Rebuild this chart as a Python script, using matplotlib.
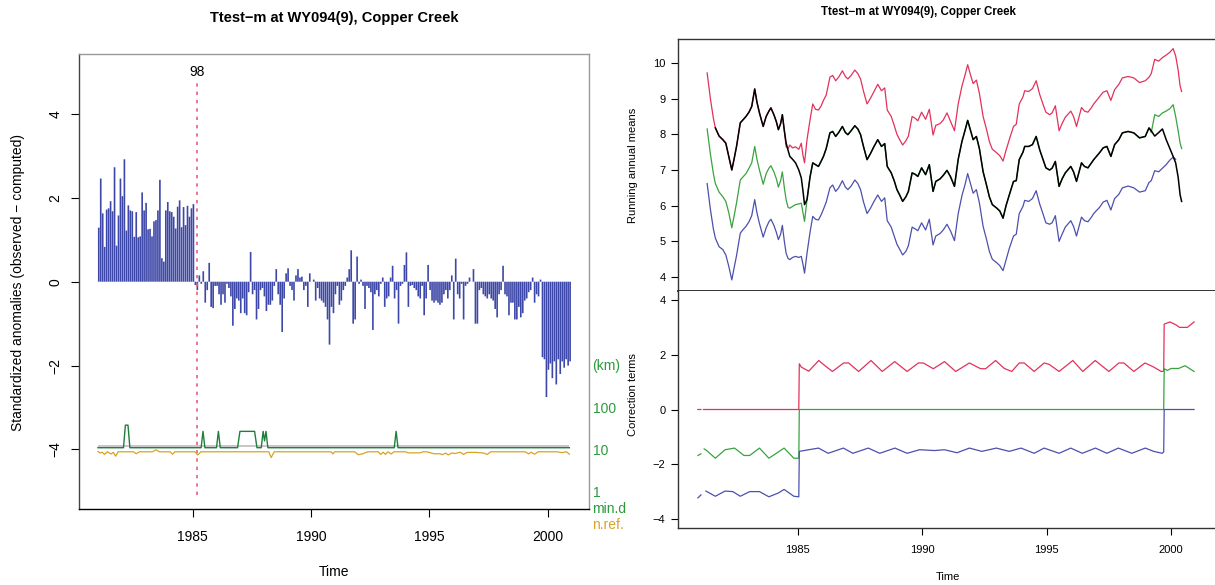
import numpy as np
import matplotlib
matplotlib.use('agg')
from matplotlib import pyplot as plt
from matplotlib.ticker import NullLocator

plt.rcParams['font.family'] = ['Liberation Sans', 'DejaVu Sans']

# ---- data ----
TITLE = 'Ttest\u2212m at WY094(9), Copper Creek'
START_YEAR = 1981.0
BREAK_YEAR = 1985.17
BREAK_LABEL = '98'

# monthly standardized anomalies, Jan 1981 .. Dec 2000
anomalies = [
    1.29, 2.46, 1.63, 0.83, 1.72, 1.75, 1.92, 1.68, 2.73, 0.86,
    1.58, 2.46, 2.04, 2.92, 1.22, 1.82, 1.70, 1.68, 1.07, 1.66,
    1.06, 1.08, 2.13, 1.70, 1.88, 1.25, 1.26, 1.08, 1.44, 1.47,
    1.70, 2.43, 0.56, 0.48, 1.70, 1.90, 1.68, 1.66, 1.55, 1.27,
    1.79, 1.94, 1.30, 1.78, 1.35, 1.81, 1.55, 1.75, 1.85,
    # after the break
    -0.08, -0.20, 0.15, -0.05, 0.25, -0.50, -0.20, 0.45, -0.60, -0.63,
    -0.10, -0.10, -0.30, -0.55, -0.30, -0.50, -0.05, -0.15, -0.35, -1.05,
    -0.65, -0.40, -0.45, -0.75, -0.40, -0.75, -0.80, -0.25, 0.71, -0.30,
    -0.20, -0.90, -0.65, -0.20, -0.15, -0.35, -0.70, -0.55, -0.55, -0.45,
    -0.10, 0.30, -0.30, -0.55, -1.20, -0.40, 0.20, 0.32, -0.10, -0.20,
    -0.45, 0.15, 0.30, 0.10, 0.12, -0.20, -0.10, -0.60, 0.20, 0.00,
    0.05, -0.45, -0.15, -0.40, -0.45, -0.50, -0.60, -0.90, -1.50, -0.60,
    -0.75, -0.30, -0.10, -0.55, -0.45, -0.20, -0.10, 0.10, 0.30, 0.75,
    -1.00, -0.90, 0.60, -0.05, 0.05, -0.10,
    -0.65, -0.10, -0.15, -0.25, -1.15, -0.30, -0.20, -0.35, -0.05, 0.10,
    -0.60, -0.40, -0.35, 0.10, 0.38, -0.40, -0.20, -1.00, -0.10, -0.05,
    0.40, 0.70, -0.60, -0.10, -0.08, -0.15, -0.20, -0.35, -0.40, -0.10,
    -0.80, -0.40, 0.40, -0.20, -0.45, -0.50, -0.45, -0.50, -0.55, -0.50,
    -0.30, -0.20, -0.40, -0.20, 0.15, -0.90, 0.55, -0.30, -0.40, -0.05,
    -0.90, -0.10, -0.05, 0.10, 0.00, 0.30, -1.00, -1.00, -0.20, -0.15,
    -0.30, -0.35, -0.40, -0.30, -0.40, -0.45, -0.65, -0.85, -0.30, -0.20,
    0.38, -0.30, -0.35, -0.80, -0.50, -0.50, -0.90, -0.90, -0.60, -0.85,
    -0.75, -0.45, -0.40, -0.25, -0.20, 0.10, -0.50, -0.30, -0.35, 0.05,
    -1.80, -1.85, -2.75, -2.10, -1.95, -2.30, -1.90, -2.45, -1.85, -2.20,
    -1.90, -2.05, -1.85, -2.00, -1.90,
]

# distance to nearest reference (km) and number of references
mind_time = [1981.0, 1982.08, 1982.16, 1982.27, 1982.35, 1985.36, 1985.44, 1985.52,
             1986.01, 1986.09, 1986.17, 1986.9, 1987.0, 1987.62, 1987.72, 1987.9,
             1987.98, 1988.04, 1988.1, 1988.18, 1993.52, 1993.6, 1993.68, 2000.92]
mind_km = [11, 11, 38, 38, 11, 11, 27, 11, 11, 27, 11, 11, 27, 27, 11, 11,
           27, 16, 27, 11, 11, 27, 11, 11]
nref_time = [1981.0, 1981.1, 1981.18, 1981.28, 1981.4, 1981.55, 1981.65, 1981.75, 1981.85, 1982.5,
             1982.62, 1982.75, 1983.3, 1983.45, 1983.6, 1984.05, 1984.15, 1984.25, 1985.1, 1985.22,
             1985.35, 1988.22, 1988.32, 1988.45, 1990.85, 1990.93, 1991.0, 1991.85, 1992.0, 1992.2,
             1992.4, 1992.85, 1992.95, 1993.05, 1993.15, 1993.25, 1993.4, 1993.5, 1994.0, 1994.1,
             1994.6, 1994.75, 1994.9, 1995.2, 1995.45, 1995.55, 1995.7, 1995.8, 1995.95, 1996.1,
             1996.3, 1996.45, 1996.6, 1997.0, 1997.3, 1997.45, 1997.6, 1998.0, 1999.05, 1999.2,
             1999.3, 1999.45, 1999.6, 2000.4, 2000.6, 2000.8, 2000.92]
nref_n = [9, 8.2, 8.6, 7.6, 8.8, 7.8, 8.5, 6.9, 8.8, 8.8,
          7.9, 8.8, 8.8, 9.8, 8.8, 8.8, 7.7, 8.8, 8.8, 7.4,
          8.8, 8.8, 6.4, 8.8, 8.8, 7.8, 8.8, 8.8, 7.5, 7.9,
          8.8, 8.8, 7.6, 8.6, 7.6, 8.8, 7.8, 8.8, 8.8, 8.3,
          8.3, 8.8, 8.8, 7.9, 7.9, 7.5, 8.2, 7.4, 8.2, 8.0,
          8.6, 7.6, 8.5, 8.5, 8.2, 7.6, 8.8, 8.8, 8.8, 7.8,
          8.6, 7.7, 8.8, 8.8, 8.4, 8.8, 7.7]
REF_KM = 11.8

nan = np.nan
# running annual means
rm_time = [1981.37, 1981.50, 1981.62, 1981.70, 1981.85, 1982.00, 1982.12, 1982.24, 1982.36, 1982.45,
           1982.55, 1982.70, 1982.80, 1982.93, 1983.05, 1983.16, 1983.28, 1983.37, 1983.47, 1983.62,
           1983.74, 1983.85, 1983.93, 1984.05, 1984.15, 1984.23, 1984.32, 1984.39, 1984.47, 1984.54,
           1984.62, 1984.69, 1984.80, 1984.92, 1985.05, 1985.15, 1985.22, 1985.28, 1985.38, 1985.50,
           1985.61, 1985.72, 1985.84, 1985.95, 1986.04, 1986.15, 1986.30, 1986.41, 1986.53, 1986.65,
           1986.80, 1986.92, 1987.02, 1987.15, 1987.30, 1987.42, 1987.53, 1987.65, 1987.79, 1987.92,
           1988.07, 1988.22, 1988.37, 1988.50, 1988.60, 1988.76, 1988.88, 1988.99, 1989.10, 1989.22,
           1989.35, 1989.45, 1989.60, 1989.72, 1989.83, 1989.98, 1990.14, 1990.29, 1990.44, 1990.55,
           1990.72, 1990.85, 1991.00, 1991.15, 1991.30, 1991.45, 1991.60, 1991.72, 1991.83, 1991.95,
           1992.05, 1992.18, 1992.30, 1992.45, 1992.60, 1992.70, 1992.82, 1993.00, 1993.12, 1993.25,
           1993.37, 1993.50, 1993.67, 1993.78, 1993.90, 1994.05, 1994.12, 1994.28, 1994.43, 1994.58,
           1994.72, 1994.85, 1994.97, 1995.12, 1995.22, 1995.35, 1995.50, 1995.62, 1995.75, 1995.97,
           1996.08, 1996.20, 1996.40, 1996.52, 1996.66, 1996.80, 1996.89, 1997.12, 1997.27, 1997.42,
           1997.58, 1997.73, 1997.90, 1998.04, 1998.27, 1998.50, 1998.73, 1998.96, 1999.11, 1999.20,
           1999.34, 1999.50, 1999.65, 1999.80, 1999.95, 2000.08, 2000.18, 2000.28, 2000.36, 2000.42]
rm_black = [nan, nan, nan, 8.18, 7.95, 7.85, 7.75, 7.38, 7.00, 7.30,
            7.66, 8.32, 8.40, 8.50, 8.62, 8.78, 9.27, 8.90, 8.60, 8.22,
            8.50, 8.65, 8.74, 8.55, 8.35, 8.13, 8.30, 8.55, 8.10, 7.76,
            7.55, 7.38, 7.30, 7.20, 7.00, 6.78, 6.40, 6.03, 6.17, 6.80,
            7.20, 7.15, 7.10, 7.25, 7.38, 7.60, 8.04, 8.08, 7.94, 8.05,
            8.22, 8.05, 7.99, 8.10, 8.24, 8.15, 7.99, 7.65, 7.29, 7.45,
            7.66, 7.85, 7.66, 7.74, 7.10, 6.92, 6.70, 6.45, 6.30, 6.12,
            6.25, 6.40, 6.92, 6.88, 6.82, 7.06, 6.87, 7.15, 6.40, 6.68,
            6.75, 6.85, 6.99, 6.80, 6.54, 7.30, 7.80, 8.10, 8.39, 8.10,
            7.85, 7.94, 7.60, 6.95, 6.54, 6.25, 6.03, 5.93, 5.85, 5.65,
            6.00, 6.30, 6.68, 6.70, 7.29, 7.50, 7.66, 7.66, 7.71, 7.94,
            7.57, 7.30, 7.06, 7.00, 7.05, 7.24, 6.54, 6.75, 6.92, 7.10,
            6.95, 6.68, 7.20, 7.10, 7.06, 7.20, 7.29, 7.48, 7.62, 7.66,
            7.38, 7.71, 7.85, 8.04, 8.08, 8.04, 7.90, 7.94, 8.18, 8.10,
            7.95, 8.05, 8.15, 7.85, 7.60, 7.38, 7.20, 6.80, 6.30, 6.12]
rm_red = [9.72, 9.00, 8.45, 8.18, 7.95, 7.85, 7.75, 7.38, 7.00, 7.30,
          7.66, 8.32, 8.40, 8.50, 8.62, 8.78, 9.27, 8.90, 8.60, 8.22,
          8.50, 8.65, 8.74, 8.55, 8.35, 8.13, 8.30, 8.55, 8.10, 7.66,
          7.60, 7.70, 7.62, 7.65, 7.58, 7.75, 7.40, 7.20, 7.85, 8.40,
          8.85, 8.70, 8.68, 8.80, 8.95, 9.10, 9.60, 9.65, 9.50, 9.60,
          9.78, 9.62, 9.55, 9.65, 9.80, 9.70, 9.55, 9.20, 8.85, 9.00,
          9.20, 9.40, 9.22, 9.30, 8.68, 8.50, 8.25, 8.00, 7.85, 7.70,
          7.82, 7.95, 8.50, 8.45, 8.38, 8.62, 8.42, 8.70, 7.98, 8.25,
          8.30, 8.40, 8.60, 8.35, 8.10, 8.85, 9.35, 9.65, 9.95, 9.65,
          9.42, 9.52, 9.15, 8.50, 8.10, 7.80, 7.58, 7.48, 7.40, 7.25,
          7.55, 7.85, 8.22, 8.28, 8.85, 9.05, 9.22, 9.20, 9.28, 9.50,
          9.12, 8.85, 8.62, 8.55, 8.60, 8.80, 8.10, 8.30, 8.48, 8.65,
          8.50, 8.22, 8.75, 8.65, 8.62, 8.75, 8.85, 9.05, 9.18, 9.22,
          8.95, 9.25, 9.40, 9.58, 9.62, 9.58, 9.45, 9.50, 9.60, 9.70,
          10.10, 10.05, 10.15, 10.22, 10.30, 10.40, 10.20, 9.80, 9.35, 9.20]
rm_green = [8.15, 7.45, 6.90, 6.62, 6.38, 6.25, 6.12, 5.80, 5.38, 5.70,
            6.08, 6.72, 6.80, 6.90, 7.05, 7.20, 7.66, 7.30, 7.00, 6.60,
            6.90, 7.05, 7.12, 6.95, 6.75, 6.52, 6.70, 6.95, 6.50, 6.17,
            5.95, 5.93, 5.98, 6.03, 6.05, 6.07, 5.80, 5.56, 6.17, 6.80,
            7.20, 7.15, 7.10, 7.25, 7.38, 7.60, 8.04, 8.08, 7.94, 8.05,
            8.22, 8.05, 7.99, 8.10, 8.24, 8.15, 7.99, 7.65, 7.29, 7.45,
            7.66, 7.85, 7.66, 7.74, 7.10, 6.92, 6.70, 6.45, 6.30, 6.12,
            6.25, 6.40, 6.92, 6.88, 6.82, 7.06, 6.87, 7.15, 6.40, 6.68,
            6.75, 6.85, 6.99, 6.80, 6.54, 7.30, 7.80, 8.10, 8.39, 8.10,
            7.85, 7.94, 7.60, 6.95, 6.54, 6.25, 6.03, 5.93, 5.85, 5.65,
            6.00, 6.30, 6.68, 6.70, 7.29, 7.50, 7.66, 7.66, 7.71, 7.94,
            7.57, 7.30, 7.06, 7.00, 7.05, 7.24, 6.54, 6.75, 6.92, 7.10,
            6.95, 6.68, 7.20, 7.10, 7.06, 7.20, 7.29, 7.48, 7.62, 7.66,
            7.38, 7.71, 7.85, 8.04, 8.08, 8.04, 7.90, 7.94, 8.18, 8.05,
            8.55, 8.50, 8.60, 8.65, 8.72, 8.83, 8.50, 8.10, 7.75, 7.60]
rm_blue = [6.62, 5.90, 5.35, 5.09, 4.85, 4.77, 4.62, 4.30, 3.92, 4.25,
           4.60, 5.23, 5.32, 5.42, 5.55, 5.72, 6.17, 5.80, 5.50, 5.12,
           5.38, 5.55, 5.62, 5.45, 5.25, 5.05, 5.20, 5.45, 5.00, 4.67,
           4.52, 4.49, 4.55, 4.58, 4.55, 4.58, 4.35, 4.11, 4.67, 5.25,
           5.70, 5.62, 5.60, 5.75, 5.90, 6.10, 6.50, 6.58, 6.40, 6.50,
           6.70, 6.52, 6.45, 6.55, 6.72, 6.62, 6.45, 6.10, 5.78, 5.92,
           6.12, 6.30, 6.12, 6.22, 5.58, 5.40, 5.15, 4.92, 4.78, 4.62,
           4.72, 4.88, 5.40, 5.35, 5.30, 5.52, 5.32, 5.62, 4.90, 5.15,
           5.22, 5.32, 5.48, 5.28, 5.02, 5.78, 6.28, 6.58, 6.90, 6.60,
           6.35, 6.45, 6.08, 5.42, 5.02, 4.72, 4.50, 4.40, 4.32, 4.18,
           4.48, 4.80, 5.15, 5.20, 5.78, 5.98, 6.15, 6.12, 6.20, 6.42,
           6.05, 5.78, 5.52, 5.48, 5.52, 5.72, 5.00, 5.20, 5.40, 5.58,
           5.42, 5.15, 5.68, 5.58, 5.55, 5.68, 5.78, 5.95, 6.10, 6.15,
           5.88, 6.20, 6.32, 6.50, 6.55, 6.50, 6.38, 6.42, 6.65, 6.70,
           6.98, 6.95, 7.05, 7.15, 7.28, 7.36, 7.30, nan, nan, nan]

# correction terms
rc_time = [1981.0, 1981.12, 1981.16, 1981.22, 1985.05, 1985.07, 1985.15, 1985.45, 1985.85, 1986.1,
           1986.4, 1986.85, 1987.05, 1987.45, 1987.95, 1988.4, 1988.9, 1989.4, 1989.85, 1990.05,
           1990.45, 1990.9, 1991.35, 1991.9, 1992.35, 1992.55, 1992.95, 1993.3, 1993.6, 1993.9,
           1994.1, 1994.5, 1994.9, 1995.1, 1995.5, 1996.05, 1996.45, 1996.95, 1997.5, 1997.9,
           1998.1, 1998.5, 1998.95, 1999.3, 1999.6, 1999.7, 1999.72, 1999.95, 2000.18, 2000.34,
           2000.65, 2000.92]
rc_val = [0, 0, nan, 0, 0, 1.67, 1.55, 1.40, 1.79, 1.60,
          1.39, 1.70, 1.70, 1.39, 1.79, 1.39, 1.75, 1.39, 1.70, 1.70,
          1.49, 1.75, 1.39, 1.70, 1.49, 1.49, 1.79, 1.50, 1.39, 1.70,
          1.70, 1.39, 1.70, 1.65, 1.39, 1.79, 1.39, 1.79, 1.39, 1.70,
          1.70, 1.39, 1.70, 1.55, 1.39, 1.40, 3.12, 3.20, 3.10, 3.00,
          3.00, 3.20]
gc_time = [1981.0, 1981.12, 1981.16, 1981.25, 1981.35, 1981.7, 1982.09, 1982.47, 1982.85, 1983.08,
           1983.47, 1983.85, 1984.05, 1984.46, 1984.85, 1985.05, 1985.07, 1999.7, 1999.72, 1999.85,
           2000.0, 2000.3, 2000.56, 2000.92]
gc_val = [-1.68, -1.62, nan, -1.44, -1.50, -1.78, -1.47, -1.41, -1.68, -1.68,
          -1.41, -1.78, -1.66, -1.41, -1.78, -1.78, 0.0, 0.0, 1.49, 1.43,
          1.50, 1.50, 1.60, 1.39]
bc_time = [1981.0, 1981.12, 1981.16, 1981.32, 1981.7, 1982.09, 1982.4, 1982.7, 1983.08, 1983.47,
           1983.85, 1984.23, 1984.46, 1984.85, 1985.05, 1985.07, 1985.45, 1985.84, 1986.23, 1986.84,
           1987.22, 1987.84, 1988.3, 1988.91, 1989.4, 1989.9, 1990.5, 1990.9, 1991.4, 1991.9,
           1992.4, 1992.98, 1993.5, 1993.97, 1994.5, 1994.9, 1995.5, 1995.97, 1996.43, 1996.96,
           1997.42, 1997.88, 1998.42, 1998.96, 1999.3, 1999.64, 1999.7, 1999.72, 2000.92]
bc_val = [-3.23, -3.12, nan, -2.98, -3.17, -2.98, -3.0, -3.17, -3.0, -3.0,
          -3.19, -3.05, -2.92, -3.17, -3.19, -1.53, -1.47, -1.41, -1.60, -1.41,
          -1.60, -1.41, -1.60, -1.41, -1.60, -1.47, -1.50, -1.47, -1.58, -1.41,
          -1.53, -1.41, -1.53, -1.41, -1.60, -1.41, -1.60, -1.41, -1.60, -1.41,
          -1.60, -1.41, -1.60, -1.41, -1.53, -1.60, -1.55, 0.0, 0.0]

# ---- styling ----
BAR = '#3d47a7'
DASH = '#e5607e'
KM_GREEN = '#2b9a3c'
MIND_GREEN = '#1f7f3a'
ORANGE = '#d9a227'
GREY = '#bdbdbd'
RED = '#e2325b'
GREEN = '#3aa33f'
BLUE = '#4c50ad'

W, H = 1215, 585


def box(left, top, right, bottom):
    return [left / W, 1 - bottom / H, (right - left) / W, (bottom - top) / H]


def fig_xy(px, py):
    return px / W, 1 - py / H


fig = plt.figure(figsize=(W / 100, H / 100), dpi=100)

# ---------------- left panel ----------------
ax = fig.add_axes(box(79, 54, 589, 509))
t_months = START_YEAR + np.arange(len(anomalies)) / 12.0
ax.bar(t_months, anomalies, width=0.07, align='edge', color=BAR,
       linewidth=0, snap=False)
ax.set_xlim(1980.2, 2001.75)
ax.set_ylim(-5.42, 5.43)
ax.axvline(BREAK_YEAR, ymin=0.03, ymax=0.943, color=DASH, lw=1.2, ls=(0, (2, 3)))
ax.text(BREAK_YEAR, 0.96, BREAK_LABEL, transform=ax.get_xaxis_transform(),
        ha='center', va='center', fontsize=10)

ax.set_xticks([1985, 1990, 1995, 2000])
ax.set_yticks([-4, -2, 0, 2, 4])
ax.tick_params(axis='x', direction='out', length=6, labelsize=10, pad=9)
ax.tick_params(axis='y', direction='out', length=6, labelsize=10, pad=6, labelrotation=90)
for lab in ax.get_yticklabels():
    lab.set_va('center')
for side, col in (('left', '#444444'), ('top', '#999999'), ('right', '#999999'), ('bottom', 'black')):
    ax.spines[side].set_color(col)
    ax.spines[side].set_linewidth(1.0)

# minimum distance / number of references on a log axis
ax2 = ax.twinx()
ax2.set_yscale('log')
ax2.set_ylim(10 ** (-5.42 + 5), 10 ** (5.43 + 5))
ax2.hlines(REF_KM, mind_time[0], mind_time[-1], color=GREY, lw=1.2)
ax2.plot(nref_time, nref_n, color=ORANGE, lw=0.9)
ax2.plot(mind_time, mind_km, color=MIND_GREEN, lw=1.0)
ax2.set_yticks([1, 10, 100])
ax2.set_yticklabels(['1', '10', '100'])
ax2.yaxis.set_minor_locator(NullLocator())
ax2.tick_params(axis='y', length=0, labelsize=10, labelcolor=KM_GREEN, pad=3)
for s in ax2.spines.values():
    s.set_visible(False)
ax2.text(1.006, 1000, '(km)', transform=ax2.get_yaxis_transform(), color=KM_GREEN,
         fontsize=10, ha='left', va='center')
ax2.text(1.006, 0.0, 'min.d', transform=ax2.transAxes, color=KM_GREEN,
         fontsize=10, ha='left', va='center')
ax2.text(1.006, -0.035, 'n.ref.', transform=ax2.transAxes, color=ORANGE,
         fontsize=10, ha='left', va='center')

x, y = fig_xy(334, 18)
fig.text(x, y, TITLE, ha='center', va='center', fontsize=10.5, fontweight='bold')
x, y = fig_xy(334, 572)
fig.text(x, y, 'Time', ha='center', va='center', fontsize=10)
x, y = fig_xy(18, 282)
fig.text(x, y, 'Standardized anomalies (observed \u2212 computed)', rotation=90,
         ha='center', va='center', fontsize=10)

# ---------------- right panels ----------------
axt = fig.add_axes(box(678, 39, 1216, 291))
axb = fig.add_axes(box(678, 291, 1216, 528), sharex=axt)

axt.plot(rm_time, rm_red, color=RED, lw=0.9)
axt.plot(rm_time, rm_green, color=GREEN, lw=0.9)
axt.plot(rm_time, rm_blue, color=BLUE, lw=0.9)
axt.plot(rm_time, rm_black, color='black', lw=1.1)
axt.set_ylim(3.61, 10.67)
axt.set_yticks([4, 5, 6, 7, 8, 9, 10])

axb.plot(rc_time, rc_val, color=RED, lw=0.9)
axb.plot(gc_time, gc_val, color=GREEN, lw=0.9)
axb.plot(bc_time, bc_val, color=BLUE, lw=0.9)
axb.set_ylim(-4.33, 4.33)
axb.set_yticks([-4, -2, 0, 2, 4])
axb.set_xlim(1980.2, 2001.8)
axb.set_xticks([1985, 1990, 1995, 2000])

for a in (axt, axb):
    a.tick_params(direction='out', length=5, labelsize=8, pad=4)
    a.spines['right'].set_visible(False)
    for s in a.spines.values():
        s.set_color('#333333')
        s.set_linewidth(1.0)
axt.tick_params(axis='x', bottom=False, labelbottom=False)
axt.spines['bottom'].set_linewidth(1.4)
axb.spines['top'].set_visible(False)
axb.tick_params(axis='x', pad=7)

x, y = fig_xy(918, 12)
fig.text(x, y, TITLE, ha='center', va='center', fontsize=8.3, fontweight='bold')
x, y = fig_xy(948, 577)
fig.text(x, y, 'Time', ha='center', va='center', fontsize=8)
x, y = fig_xy(633, 165)
fig.text(x, y, 'Running annual means', rotation=90, ha='center', va='center', fontsize=8)
x, y = fig_xy(633, 395)
fig.text(x, y, 'Correction terms', rotation=90, ha='center', va='center', fontsize=8)

fig.savefig('out.png', dpi=100)
